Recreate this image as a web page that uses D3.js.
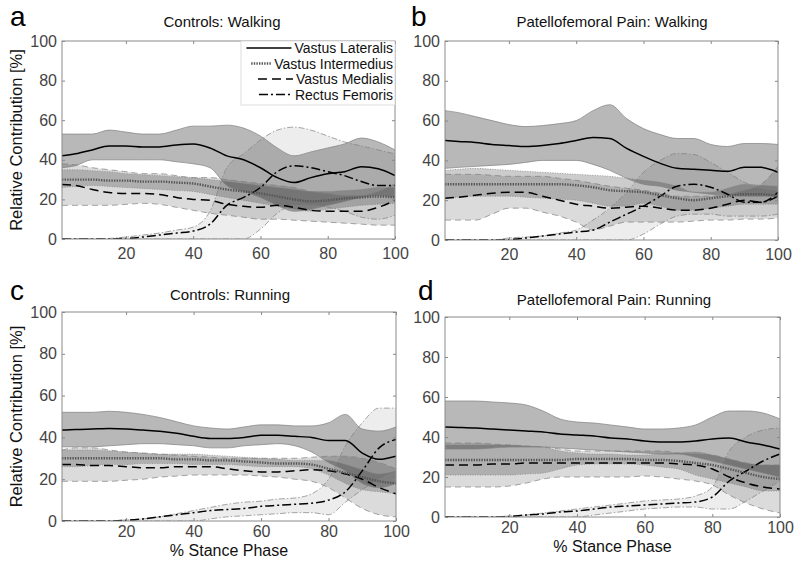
<!DOCTYPE html>
<html><head><meta charset="utf-8">
<script src="https://cdn.jsdelivr.net/npm/d3@7"></script>
<style>body{margin:0;background:#fff} svg{display:block;font-family:"Liberation Sans",Arial,sans-serif}</style>
</head><body><svg id="chart" width="800" height="564"></svg>
<script>
// ---------- data ----------
const stance = [1,5,10,15,20,25,30,35,40,45,50,55,60,65,70,75,80,85,90,95,100];
const xTicks = [20,40,60,80,100];
const yTicks = [0,20,40,60,80,100];
const muscles = ["Vastus Lateralis","Vastus Intermedius","Vastus Medialis","Rectus Femoris"];
const panelTitles = ["Controls: Walking","Patellofemoral Pain: Walking","Controls: Running","Patellofemoral Pain: Running"];
const panelLetters = ["a","b","c","d"];

// a: Controls walking (mean, upper, lower)
const aVLm = [42,43,45,47,47,46.5,46.5,47.5,48,46,42,40,36,31,28.5,31,33,34,36.5,35.5,32];
const aVLu = [53,53,53,55,54,53,53,55,57,57,57.5,56,52,46,42,44,46,48,51,49,45];
const aVLl = [36,37,40,40,40,40,40,39,38,36,27,24,21,17,14,15,17,19,21,22,21];
const aVIm = [30,30,30,29.5,29.5,29,29,28.5,28,26.5,25,24,23,21.5,20,19,19.5,20.5,21,21.5,21];
const aVIu = [35,35,34.5,34,33,32.5,32,31.5,31,30,29,28,27,26,25,24,24,24.5,25,26,26];
const aVIl = [26,26.5,27,26.5,26,25.5,25,24.5,24,22.5,21,19.5,18,16.5,15,14,15,16,17,17.5,18];
const aVMm = [27.5,27,25,23.5,23,23,22.5,21,20,19.5,17.5,16.5,16,17,16,14.5,14,14,14,16,19.5];
const aVMu = [38,37.5,36,35,34,33,33,32,31,31,30,29,28,27,26,24,23,22,22,24,28];
const aVMl = [17,17,17,17,17.5,18,17.5,16,14.5,13,12,11,10,10,9.5,9,8.5,8,7.5,7,7];
const aRFm = [0,0,0,0,0.3,1,2,3,4,7.5,17,21,26,34,37,36,34,32,29,27,27];
const aRFu = [0,0,0,0.3,1,2,3,4.5,6,14,36,43,50,55,56.5,55,52,49,47,45,43];
const aRFl = [0,0,0,0,0,0,0,0,0,0,0,0,5,13,17,17,16,14,11,10,12];

// b: Patellofemoral pain walking
const bVLm = [50,49.5,49,48,47.5,47,47.5,48.5,50,51.5,51,46,42,38.5,36,35.5,35,34.5,36.5,36.5,34];
const bVLu = [65,64,62,60,58,57,57.5,58.5,60,65,68,61,56,53,51,51,48,47,48.5,48.5,48];
const bVLl = [36,36.5,37,37.5,38,39,40,40,40,38,35,31,28,27,25,24,23,22.5,22,22,22];
const bVIm = [28,28,28,28,28,28,28,28,27.5,26.5,25,24.5,24,22.5,21,20,21,22,23,23,22];
const bVIu = [35,35.5,36,35.5,35,34.5,34,33.5,33,32.5,32,31,30,29,27,24,24,26,28,27.5,27];
const bVIl = [21,21.5,22,22,22,21.5,21,20.5,20,18.5,17,17,18.5,17,15,15,16,17,18,18,18];
const bVMm = [21,21.5,22.5,23.5,24,24,22,20,18,17,16,16.5,17,16,15,15,16,18,20,19,24];
const bVMu = [33,33,33,32.5,32,32,32,31,30,28.5,27,26,25,23.5,22,22,22,23,25,28,37];
const bVMl = [10,10,10,13,16,16,14,12,9,5,7,9,9,9,9,9.5,10,10,10.5,10.5,11];
const bRFm = [0,0,0,0,0.2,1,2,3,4,5,9,13,17,22,27,28,26.5,23,19,19,22];
const bRFu = [0,0,0,0,1,1.5,2,3.5,5,10,16,24,34,40,43.5,43,39,34,29,26,25];
const bRFl = [0,0,0,0,0,0,0,0,0,0,0,0,3,8,12,13,13,12,12,12,13];

// c: Controls running
const cVLm = [43.5,43.8,44,44.2,44,43.5,43,42,40.5,39.5,39.5,40,41,41,40.5,40,38.5,38.5,32.5,29.5,31];
const cVLu = [52,52,52,52.5,52,51,49.5,47.5,45.5,44.5,44,45,46,46,45.5,45.5,47,51,44,43,45];
const cVLl = [35.5,35.5,35.5,36,36.5,37,37,36.5,36,35,35,36,36.5,37,36,33,28,24,18,16,18];
const cVIm = [30,30,30,30,30,30,30,29.5,29.5,29,29,28.5,28,27.5,27.5,27,25,23,21,19,18];
const cVIu = [34,34,34,33.5,33,32.5,32,32,32,31.5,31,30.5,30,29.5,29,29,29,27,24.5,22.5,24];
const cVIl = [26,26,26.5,27,27,27.5,27.5,27.5,27,27,27,26.5,26,26,26,25,22,18,15,14,13];
const cVMm = [27,27,26.5,26.5,26,25.5,25.5,26,26,26,25,24,23.5,23.5,24,24.5,24,22.5,20,16,13];
const cVMu = [34,35,35,34,33,32.5,32,31.5,31,30.5,30,30,30,30,30,30.5,31,31,30,28,25];
const cVMl = [19,19,19,19,19.5,20,21,21.5,22,22,22,22,21.5,21,20,19,16,11,6,3,2];
const cRFm = [0,0,0,0,0.3,1,2,3,4,5,5.5,6,7,7.5,8,8.5,10,14,24,35,39];
const cRFu = [0,0,0,0,0.5,1,2,3.5,5,6.5,8,9,9.5,10.5,11,13,20,36,47,54,54];
const cRFl = [0,0,0,0,0,0,0,0,0,1,2,2.5,3,3.5,4,4,3,9,15,20,24];

// d: Patellofemoral pain running
const dVLm = [45,44.8,44.5,44,43.5,43,42.5,41.5,41,40.5,39.5,39,38,37.5,37.5,38,39,39.5,37.5,36,34];
const dVLu = [58,58,58,57.5,57,56,53,49,47.5,47,46,45,44,44,44.5,46,50,53,53,52,49];
const dVLl = [34,34,34,34.5,35,35,35,34.5,34,33.5,33,32.5,32,31.5,31.5,30,28,26,24,22,20];
const dVIm = [28.5,28.5,28.5,28.5,28.5,28.5,28.5,28.5,29,29,29,29,28.5,28.5,28,27,26,24,22,20,19];
const dVIu = [36,36,36,36,36,35.5,35,33,32,31.5,31.5,31,31,31.5,32,32.5,31,29,27,26,26];
const dVIl = [21,21,21,21,21,21.5,22,24,26,26.5,26.5,26.5,26,25,24,21,19,17,15,13,13];
const dVMm = [26,26,26,26.5,26.5,27,27,27,27,27,27,27,27,27,26.5,26,24,20,17,15,14];
const dVMu = [37,37,37,36.5,36,35.5,35,34,33,33,33,33,33,33,32,31.5,31,29,27,26,26];
const dVMl = [15,15,15,15,15.5,17,19,20,20,20,20,20,20.5,20,19,18,16,11,7,4,2];
const dRFm = [0,0,0,0,0.3,1,1.5,2.5,3,4,5,5.5,6,6.5,7,7.5,10,18,23,28,31.5];
const dRFu = [0,0,0,0,0.5,1,2,3,4,5,6,7,8,8.5,9,10.5,15,33,40,43.5,44.5];
const dRFl = [0,0,0,0,0,0,0,0,0,1,2,3,4,4.5,5,5,4,4,8,13,18];

// ---------- styles ----------
const styles = [
  {line:"#000", w:1.5, dash:null,      band:0.28, edgeDash:null},
  {line:"#555", w:2.4, dash:"1.4,1.2", band:0.20, edgeDash:"1,1.5"},
  {line:"#000", w:1.5, dash:"9,5",     band:0.14, edgeDash:"6,4"},
  {line:"#000", w:1.5, dash:"9,3,2,3", band:0.07, edgeDash:"6,2,1.5,2"}
];

const panels = [
  {box:[62,395,41,239],  series:[[aVLm,aVLu,aVLl],[aVIm,aVIu,aVIl],[aVMm,aVMu,aVMl],[aRFm,aRFu,aRFl]], ylab:true,  xlab:false, pad:9, letter:[10,26], title:[222,27], legend:true},
  {box:[445,778,41,240], series:[[bVLm,bVLu,bVLl],[bVIm,bVIu,bVIl],[bVMm,bVMu,bVMl],[bRFm,bRFu,bRFl]], ylab:false, xlab:false, pad:9, letter:[411,26], title:[612,27]},
  {box:[62,396,312,521], series:[[cVLm,cVLu,cVLl],[cVIm,cVIu,cVIl],[cVMm,cVMu,cVMl],[cRFm,cRFu,cRFl]], ylab:true,  xlab:true, pad:5, letter:[10,300], title:[230,300]},
  {box:[445,780,317,517],series:[[dVLm,dVLu,dVLl],[dVIm,dVIu,dVIl],[dVMm,dVMu,dVMl],[dRFm,dRFu,dRFl]], ylab:false, xlab:true, pad:5, letter:[418,300], title:[614,305]}
];

const svg = d3.select("#chart");

panels.forEach((p, pi) => {
  const [x0,x1,y0,y1] = p.box;
  const x = d3.scaleLinear().domain([1,100]).range([x0,x1]);
  const y = d3.scaleLinear().domain([0,100]).range([y1,y0]);
  const g = svg.append("g");
  const clipId = "clip"+pi;
  svg.append("clipPath").attr("id",clipId).append("rect")
     .attr("x",x0).attr("y",y0).attr("width",x1-x0).attr("height",y1-y0);
  const plot = g.append("g").attr("clip-path",`url(#${clipId})`);

  const area = d3.area().x((d,i)=>x(stance[i])).y0(d=>y(d[1])).y1(d=>y(d[0])).curve(d3.curveMonotoneX);
  const line = d3.line().x((d,i)=>x(stance[i])).y(d=>y(d)).curve(d3.curveMonotoneX);

  [3,2,1,0].forEach(k => {
    const [m,u,l] = p.series[k];
    const pts = u.map((v,i)=>[v,l[i]]);
    plot.append("path").attr("d",area(pts)).attr("fill","#000").attr("fill-opacity",styles[k].band);
  });
  [3,2,1,0].forEach(k => {
    const [m,u,l] = p.series[k];
    [u,l].forEach(arr => {
      plot.append("path").attr("d",line(arr)).attr("fill","none")
        .attr("stroke","#808080").attr("stroke-width",0.7)
        .attr("stroke-dasharray",styles[k].edgeDash);
    });
  });
  [3,2,1,0].forEach(k => {
    const m = p.series[k][0];
    plot.append("path").attr("d",line(m)).attr("fill","none")
      .attr("stroke",styles[k].line).attr("stroke-width",styles[k].w)
      .attr("stroke-dasharray",styles[k].dash);
  });

  const axB = g.append("g").attr("transform",`translate(0,${y1})`)
    .call(d3.axisBottom(x).tickValues(xTicks).tickSize(-3).tickPadding(p.pad));
  const axT = g.append("g").attr("transform",`translate(0,${y0})`)
    .call(d3.axisTop(x).tickValues(xTicks).tickSize(-3).tickFormat(""));
  const axL = g.append("g").attr("transform",`translate(${x0},0)`)
    .call(d3.axisLeft(y).tickValues(yTicks).tickSize(-3).tickPadding(5));
  const axR = g.append("g").attr("transform",`translate(${x1},0)`)
    .call(d3.axisRight(y).tickValues(yTicks).tickSize(-3).tickFormat(""));
  [axB,axT,axL,axR].forEach(a => {
    a.select(".domain").remove();
    a.selectAll("line").attr("stroke","#888");
    a.selectAll("text").attr("fill","#444").style("font-size","16px").style("font-family","'Liberation Sans',Arial,sans-serif");
  });
  g.append("rect").attr("x",x0).attr("y",y0).attr("width",x1-x0).attr("height",y1-y0)
    .attr("fill","none").attr("stroke","#8a8a8a").attr("stroke-width",1);

  g.append("text").attr("x",p.title[0]).attr("y",p.title[1]).attr("text-anchor","middle")
    .style("font-size","15px").attr("fill","#111").text(panelTitles[pi]);
  g.append("text").attr("x",p.letter[0]).attr("y",p.letter[1])
    .style("font-size","28px").attr("fill","#000").text(panelLetters[pi]);

  if (p.ylab) {
    g.append("text").attr("transform",`translate(22,${(y0+y1)/2}) rotate(-90)`)
      .attr("text-anchor","middle").style("font-size","16.5px").attr("fill","#111")
      .text("Relative Contribution [%]");
  }
  if (p.xlab) {
    g.append("text").attr("x",(x0+x1)/2).attr("y",y1+35).attr("text-anchor","middle")
      .style("font-size","16px").attr("fill","#111").text("% Stance Phase");
  }

  if (p.legend) {
    const lg = g.append("g");
    lg.append("rect").attr("x",241).attr("y",y0).attr("width",x1-241).attr("height",64)
      .attr("fill","#fff").attr("stroke","#d4d4d4").attr("stroke-width",0.8);
    const rows = [48,63.5,79,94.5];
    const sampleLen = [45,20,35,33];
    muscles.forEach((name,k) => {
      const t = lg.append("text").attr("x",x1-2).attr("y",rows[k]+5).attr("text-anchor","end")
        .style("font-size","14px").attr("fill","#111").text(name);
      const tw = t.node().getComputedTextLength();
      const xe = x1-2-tw-3;
      lg.append("line").attr("x1",xe-sampleLen[k]).attr("x2",xe).attr("y1",rows[k]).attr("y2",rows[k])
        .attr("stroke",styles[k].line).attr("stroke-width",styles[k].w)
        .attr("stroke-dasharray",styles[k].dash);
    });
  }
});
</script>
</body></html>
